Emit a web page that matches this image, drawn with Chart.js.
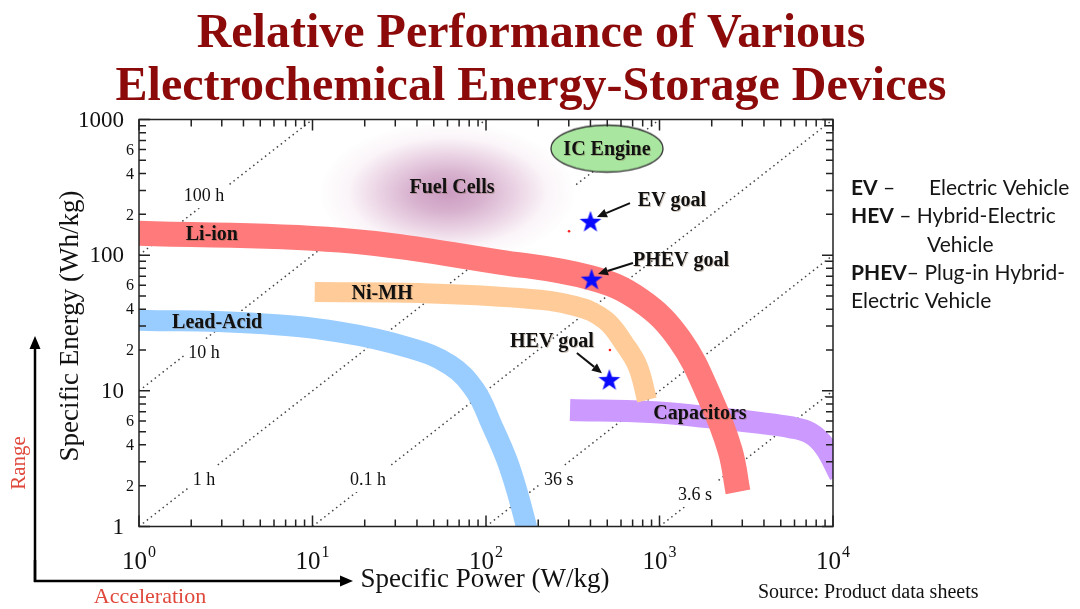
<!DOCTYPE html>
<html>
<head>
<meta charset="utf-8">
<script src="https://cdn.jsdelivr.net/npm/chart.js@4.4.1/dist/chart.umd.min.js"></script>
<style>
  html, body { margin: 0; padding: 0; background: #fff; }
  #wrap { width: 1080px; height: 609px; position: relative; }
</style>
</head>
<body>
<div id="wrap"><canvas id="ragone"></canvas></div>
<script>
// axis ticks
const xTickValues = [1, 10, 100, 1000, 10000]
const xTickExponents = ['0', '1', '2', '3', '4']
const yTickValues = [1, 2, 4, 6, 10, 20, 40, 60, 100, 200, 400, 600, 1000]
const yTickLabels = ['1', '2', '4', '6', '10', '2', '4', '6', '100', '2', '4', '6', '1000']

// bands (specific power W/kg, specific energy Wh/kg)
const liIonPower = [1, 14.4, 120, 403, 772, 1313, 1982, 2548, 2834]
const liIonEnergy = [145, 129, 89, 68, 46.7, 23.7, 8.55, 3.66, 1.8]
const niMhPower = [10.3, 41.7, 157, 326, 485, 633, 752, 847]
const niMhEnergy = [53.5, 52.6, 48.3, 42.2, 33.3, 21.8, 15, 8.56]
const leadAcidPower = [1, 4.36, 14.4, 36.5, 62, 86.4, 108, 132, 153, 179]
const leadAcidEnergy = [33.2, 31.6, 27.1, 20.7, 15.5, 10.1, 5.6, 3.09, 1.71, 0.795]
const capacitorPower = [305, 881, 1879, 3795, 5649, 7366, 8995, 10960]
const capacitorEnergy = [7.22, 6.98, 6.41, 5.8, 5.4, 4.89, 3.85, 2.4]

// goals
const goalLabels = ['EV goal', 'PHEV goal', 'HEV goal']
const goalPower = [400, 406, 514]
const goalEnergy = [176, 66, 12]
const dotPower = [301, 518]
const dotEnergy = [150, 20]

// regions
const fuelCellPower = [60]
const fuelCellEnergy = [290]
const icEnginePower = [498]
const icEngineEnergy = [610]

// constant discharge time lines
const timeLineLabels = ['100 h', '10 h', '1 h', '0.1 h', '36 s', '3.6 s']
const timeLineStart = [[1, 100], [1, 10], [1, 1], [10, 1], [100, 1], [1000, 1]]
const timeLineEnd = [[10, 1000], [100, 1000], [1000, 1000], [10000, 1000], [10000, 100], [10000, 10]]
const timeLabelPower = [2.37, 2.37, 2.37, 20.9, 263, 1602]
const timeLabelEnergy = [277, 19.3, 2.24, 2.24, 2.24, 1.74]

// text labels placed on the chart
const textLabels = ['Li-ion', 'Ni-MH', 'Lead-Acid', 'Capacitors', 'Fuel Cells', 'IC Engine', 'EV goal', 'PHEV goal', 'HEV goal']
const textPower = [2.63, 25.2, 2.82, 1711, 63.7, 498, 1180, 1330, 240]
const textEnergy = [143, 52.6, 32.1, 6.86, 318, 611, 255, 92, 23.3]
// goal arrows: tail -> head
const arrowTail = [[676, 242], [703, 87.5], [334, 19]]
const arrowHead = [[436, 191], [442, 72.6], [466, 13.5]]

const serif = "'Liberation Serif', 'Times New Roman', serif"

function toPoints(ps, es) {
  return ps.map((p, i) => ({ x: p, y: es[i] }))
}

function starImage() {
  const c = document.createElement('canvas')
  c.width = 24; c.height = 24
  const g = c.getContext('2d')
  g.beginPath()
  for (let i = 0; i < 10; i++) {
    const r = i % 2 === 0 ? 11.5 : 4.6
    const a = -Math.PI / 2 + i * Math.PI / 5
    g.lineTo(12 + r * Math.cos(a), 12.5 + r * Math.sin(a))
  }
  g.closePath()
  g.fillStyle = '#0a0aff'
  g.fill()
  return c
}

function blobImage() {
  const c = document.createElement('canvas')
  c.width = 260; c.height = 144
  const g = c.getContext('2d')
  g.translate(130, 72)
  g.scale(1, 70 / 128)
  const grad = g.createRadialGradient(0, 0, 0, 0, 0, 128)
  grad.addColorStop(0, '#cc9cc1')
  grad.addColorStop(0.28, '#d8b2cf')
  grad.addColorStop(0.55, '#ecd6e6')
  grad.addColorStop(0.78, '#fbf5f9')
  grad.addColorStop(1, '#ffffff')
  g.fillStyle = grad
  g.beginPath()
  g.arc(0, 0, 128, 0, Math.PI * 2)
  g.fill()
  return c
}

function ellipseImage() {
  const c = document.createElement('canvas')
  c.width = 118; c.height = 52
  const g = c.getContext('2d')
  g.beginPath()
  g.ellipse(59, 26, 56, 23.5, 0, 0, Math.PI * 2)
  g.fillStyle = '#a9e6a0'
  g.fill()
  g.lineWidth = 1.3
  g.strokeStyle = '#333'
  g.stroke()
  return c
}

function arrow(ctx, x1, y1, x2, y2, head, width) {
  const ang = Math.atan2(y2 - y1, x2 - x1)
  const bx = x2 - head * Math.cos(ang), by = y2 - head * Math.sin(ang)
  ctx.beginPath(); ctx.moveTo(x1, y1); ctx.lineTo(bx, by); ctx.stroke()
  ctx.beginPath(); ctx.moveTo(x2, y2)
  ctx.lineTo(bx + width / 2 * Math.sin(ang), by - width / 2 * Math.cos(ang))
  ctx.lineTo(bx - width / 2 * Math.sin(ang), by + width / 2 * Math.cos(ang))
  ctx.closePath(); ctx.fill()
}

const overlay = {
  id: 'overlay',
  afterDatasetsDraw(chart) {
    const ctx = chart.ctx, a = chart.chartArea
    const sx = chart.scales.x, sy = chart.scales.y
    ctx.save()

    // time line labels (white patch breaks the dotted line)
    ctx.font = '18px ' + serif
    ctx.textAlign = 'center'
    ctx.textBaseline = 'middle'
    timeLineLabels.forEach((t, i) => {
      const x = sx.getPixelForValue(timeLabelPower[i]), y = sy.getPixelForValue(timeLabelEnergy[i])
      const w = ctx.measureText(t).width
      ctx.fillStyle = '#fff'
      ctx.fillRect(x - w / 2 - 4, y - 13, w + 8, 26)
      ctx.fillStyle = '#111'
      ctx.fillText(t, x, y + 1)
    })

    // region / goal labels
    ctx.font = 'bold 20px ' + serif
    textLabels.forEach((t, i) => {
      const x = sx.getPixelForValue(textPower[i]), y = sy.getPixelForValue(textEnergy[i])
      ctx.fillStyle = 'rgba(120,90,60,0.35)'
      ctx.fillText(t, x + 1, y + 2)
      ctx.fillStyle = '#111'
      ctx.fillText(t, x, y + 1)
    })

    // goal arrows
    ctx.strokeStyle = '#111'
    ctx.fillStyle = '#111'
    ctx.lineWidth = 2
    arrowTail.forEach((t, i) => {
      const h = arrowHead[i]
      arrow(ctx, sx.getPixelForValue(t[0]), sy.getPixelForValue(t[1]),
        sx.getPixelForValue(h[0]), sy.getPixelForValue(h[1]), 10, 9)
    })

    // frame + inward ticks on all four sides
    ctx.strokeStyle = '#222'
    ctx.lineWidth = 1.5
    ctx.strokeRect(a.left, a.top, a.right - a.left, a.bottom - a.top)
    ctx.beginPath()
    for (let d = 1; d <= 1000; d *= 10) {
      for (let m = 1; m <= 10; m++) {
        const x = sx.getPixelForValue(d * m)
        const len = (m === 1 || m === 10) ? 11 : 7
        ctx.moveTo(x, a.bottom); ctx.lineTo(x, a.bottom - len)
        ctx.moveTo(x, a.top); ctx.lineTo(x, a.top + len)
      }
    }
    for (let d = 1; d <= 100; d *= 10) {
      for (let m = 1; m <= 10; m++) {
        const y = sy.getPixelForValue(d * m)
        const len = (m === 1 || m === 10) ? 11 : 7
        ctx.moveTo(a.left, y); ctx.lineTo(a.left + len, y)
        ctx.moveTo(a.right, y); ctx.lineTo(a.right - len, y)
      }
    }
    ctx.stroke()

    // y tick labels
    ctx.fillStyle = '#111'
    ctx.textAlign = 'right'
    ctx.textBaseline = 'middle'
    sy.ticks.forEach((t, i) => {
      const major = [1, 10, 100, 1000].includes(t.value)
      ctx.font = (major ? '23px ' : '16px ') + serif
      ctx.fillText(yTickLabels[i], major ? 124 : 134, sy.getPixelForValue(t.value) + 1)
    })

    // x tick labels 10^n
    ctx.textAlign = 'left'
    ctx.textBaseline = 'alphabetic'
    sx.ticks.forEach((t, i) => {
      ctx.font = '25px ' + serif
      const w1 = ctx.measureText('10').width
      ctx.font = '16px ' + serif
      const w2 = ctx.measureText(xTickExponents[i]).width
      const x0 = sx.getPixelForValue(t.value) - (w1 + w2 + 1) / 2
      ctx.font = '25px ' + serif
      ctx.fillText('10', x0, 569)
      ctx.font = '16px ' + serif
      ctx.fillText(xTickExponents[i], x0 + w1 + 1, 557)
    })

    // axis titles
    ctx.font = '27px ' + serif
    ctx.textAlign = 'center'
    ctx.textBaseline = 'middle'
    ctx.fillText('Specific Power (W/kg)', 485, 580)
    ctx.save()
    ctx.translate(71, 326)
    ctx.rotate(-Math.PI / 2)
    ctx.fillText('Specific Energy (Wh/kg)', 0, 0)
    ctx.restore()

    // range / acceleration arrows
    ctx.strokeStyle = '#000'
    ctx.fillStyle = '#000'
    ctx.lineWidth = 2.5
    arrow(ctx, 35, 582, 35, 336, 13, 11)
    arrow(ctx, 34, 581, 353, 581, 13, 11)
    ctx.beginPath(); ctx.moveTo(35, 582); ctx.lineTo(35, 560); ctx.stroke()
    ctx.fillStyle = '#e0483c'
    ctx.font = '22px ' + serif
    ctx.fillText('Acceleration', 150, 597)
    ctx.save()
    ctx.translate(19, 463)
    ctx.rotate(-Math.PI / 2)
    ctx.font = '21px ' + serif
    ctx.fillText('Range', 0, 0)
    ctx.restore()

    // title
    ctx.fillStyle = '#8c0a0a'
    ctx.font = 'bold 48px ' + serif
    ctx.textBaseline = 'alphabetic'
    ctx.fillText('Relative Performance of Various', 531, 47)
    ctx.fillText('Electrochemical Energy-Storage Devices', 531, 100)

    // source
    ctx.fillStyle = '#111'
    ctx.font = '20px ' + serif
    ctx.textAlign = 'left'
    ctx.fillText('Source: Product data sheets', 758, 598)

    // abbreviations
    const rich = (parts, x, y) => {
      parts.forEach(p => {
        ctx.font = (p[1] ? 'bold ' : '') + '21px Lato, "Open Sans", sans-serif'
        ctx.fillText(p[0], x, y)
        x += ctx.measureText(p[0]).width
      })
    }
    ctx.fillStyle = '#151515'
    rich([['EV', true], [' –', false]], 851, 195)
    rich([['Electric Vehicle', false]], 929, 195)
    rich([['HEV', true], [' – Hybrid-Electric', false]], 851, 223)
    rich([['Vehicle', false]], 927, 252)
    rich([['PHEV', true], ['– Plug-in Hybrid-', false]], 851, 280)
    rich([['Electric Vehicle', false]], 851, 308)

    ctx.restore()
  }
}

document.addEventListener('DOMContentLoaded', function () {
  ragone()
})

function ragone() {
  const ctx = document.getElementById('ragone')
  const noClip = { left: 0, top: 0, right: 0, bottom: 0 }

  const timeSets = timeLineLabels.map((t, i) => ({
    label: t,
    data: [{ x: timeLineStart[i][0], y: timeLineStart[i][1] }, { x: timeLineEnd[i][0], y: timeLineEnd[i][1] }],
    showLine: true,
    borderColor: '#444',
    borderWidth: 1.5,
    borderDash: [1.5, 3.5],
    pointRadius: 0,
    clip: noClip,
    order: 20
  }))

  const band = (label, ps, es, color, width, order) => ({
    label: label,
    data: toPoints(ps, es),
    showLine: true,
    borderColor: color,
    borderWidth: width,
    borderCapStyle: 'butt',
    borderJoinStyle: 'round',
    tension: 0.4,
    pointRadius: 0,
    clip: noClip,
    order: order
  })

  const data = {
    datasets: [
      ...timeSets,
      {
        label: 'Fuel Cells',
        data: toPoints(fuelCellPower, fuelCellEnergy),
        pointStyle: blobImage(),
        pointRadius: 5,
        order: 15
      },
      band('Capacitors', capacitorPower, capacitorEnergy, '#cc99ff', 22, 8),
      band('Lead-Acid', leadAcidPower, leadAcidEnergy, '#99ccff', 21, 7),
      band('Ni-MH', niMhPower, niMhEnergy, '#ffcc99', 20, 6),
      band('Li-ion', liIonPower, liIonEnergy, '#ff7a7a', 25, 5),
      {
        label: 'IC Engine',
        data: toPoints(icEnginePower, icEngineEnergy),
        pointStyle: ellipseImage(),
        pointRadius: 5,
        order: 4
      },
      {
        label: 'dots',
        data: toPoints(dotPower, dotEnergy),
        pointStyle: 'circle',
        pointRadius: 1.3,
        borderWidth: 0,
        backgroundColor: '#ff2020',
        order: 3
      },
      {
        label: 'goals',
        data: toPoints(goalPower, goalEnergy),
        pointStyle: starImage(),
        pointRadius: 5,
        order: 2
      }
    ]
  }

  const config = {
    type: 'scatter',
    data: data,
    options: {
      responsive: true,
      maintainAspectRatio: false,
      animation: false,
      events: [],
      layout: { padding: { left: 139, right: 247, top: 119.5, bottom: 82.5 } },
      plugins: {
        legend: { display: false },
        tooltip: { enabled: false }
      },
      scales: {
        x: {
          type: 'logarithmic',
          min: 1,
          max: 10000,
          ticks: { display: false },
          grid: { display: false },
          border: { display: false },
          afterBuildTicks: s => { s.ticks = xTickValues.map(v => ({ value: v })) },
          afterFit: s => { s.height = 0 }
        },
        y: {
          type: 'logarithmic',
          min: 1,
          max: 1000,
          ticks: { display: false },
          grid: { display: false },
          border: { display: false },
          afterBuildTicks: s => { s.ticks = yTickValues.map(v => ({ value: v })) },
          afterFit: s => { s.width = 0 }
        }
      }
    },
    plugins: [overlay]
  }
  const ragoneChart = new Chart(ctx, config)
}
</script>
</body>
</html>
